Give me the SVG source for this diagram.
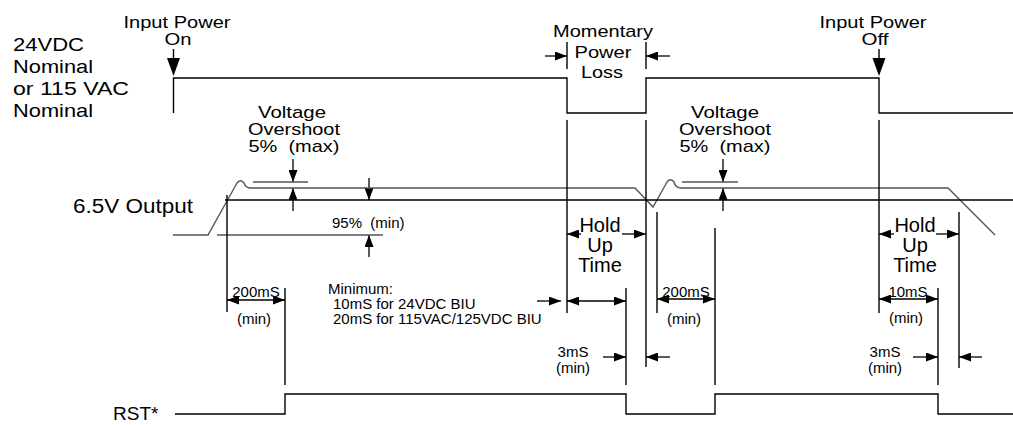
<svg xmlns="http://www.w3.org/2000/svg" width="1013" height="425" viewBox="0 0 1013 425">
<style>
.t{font-family:"Liberation Sans",Arial,Helvetica,sans-serif;fill:#000}
.f22{font-size:22px}
.f20{font-size:20px}
.f19{font-size:19px}
.f17{font-size:17px}
.f15{font-size:15px}
.m{text-anchor:middle}
.k{stroke:#000;stroke-width:1.4;fill:none}
.g{stroke:#555;stroke-width:1.4;fill:none}
.a{stroke:#000;stroke-width:1.3;fill:none;marker-end:url(#ah)}
.d{stroke:#000;stroke-width:1.3;fill:none;marker-start:url(#ah);marker-end:url(#ah)}
</style>
<defs>
<marker id="ah" markerUnits="userSpaceOnUse" markerWidth="12" markerHeight="9" refX="12" refY="4.5" orient="auto-start-reverse">
<path d="M0,0 L12,4.5 L0,9 z" fill="#000"/>
</marker>
</defs>
<rect width="1013" height="425" fill="#fff"/>

<g id="labels-left">
<text class="t f19" x="13" y="51" textLength="71" lengthAdjust="spacingAndGlyphs">24VDC</text>
<text class="t f19" x="13" y="73" textLength="80" lengthAdjust="spacingAndGlyphs">Nominal</text>
<text class="t f19" x="13" y="95" textLength="116" lengthAdjust="spacingAndGlyphs">or 115 VAC</text>
<text class="t f19" x="13" y="117" textLength="80" lengthAdjust="spacingAndGlyphs">Nominal</text>
<text class="t f20" x="73" y="213" textLength="120" lengthAdjust="spacingAndGlyphs">6.5V Output</text>
<text class="t f19" x="113" y="420">RST*</text>
</g>

<g id="input-power-on">
<text class="t f17 m" x="177" y="28" textLength="107" lengthAdjust="spacingAndGlyphs">Input Power</text>
<text class="t f17 m" x="178" y="45" textLength="27" lengthAdjust="spacingAndGlyphs">On</text>
<line class="k" x1="173.5" y1="49" x2="173.5" y2="60"/>
<polygon points="167,58 180,58 173.5,76" fill="#000"/>
</g>

<g id="momentary-power-loss">
<text class="t f17 m" x="603" y="37" textLength="100" lengthAdjust="spacingAndGlyphs">Momentary</text>
<text class="t f17 m" x="603" y="58" textLength="57" lengthAdjust="spacingAndGlyphs">Power</text>
<text class="t f17 m" x="602" y="78" textLength="42" lengthAdjust="spacingAndGlyphs">Loss</text>
<line class="k" x1="567" y1="42" x2="567" y2="69"/>
<line class="k" x1="646" y1="42" x2="646" y2="69"/>
<line class="a" x1="545" y1="56" x2="567" y2="56"/>
<line class="a" x1="670" y1="56" x2="646" y2="56"/>
</g>

<g id="input-power-off">
<text class="t f17 m" x="873" y="28" textLength="107" lengthAdjust="spacingAndGlyphs">Input Power</text>
<text class="t f17 m" x="875" y="45" textLength="27" lengthAdjust="spacingAndGlyphs">Off</text>
<line class="k" x1="879" y1="49" x2="879" y2="60"/>
<polygon points="872.5,58 885.5,58 879,76" fill="#000"/>
</g>

<g id="overshoot-1">
<text class="t f17 m" x="292" y="118" textLength="68" lengthAdjust="spacingAndGlyphs">Voltage</text>
<text class="t f17 m" x="294" y="135" textLength="92" lengthAdjust="spacingAndGlyphs">Overshoot</text>
<text class="t f17 m" x="294" y="152" textLength="91" lengthAdjust="spacingAndGlyphs" xml:space="preserve">5%  (max)</text>
<line class="a" x1="293" y1="159" x2="293" y2="182"/>
<line class="a" x1="293" y1="211" x2="293" y2="188"/>
</g>

<g id="overshoot-2">
<text class="t f17 m" x="725" y="118" textLength="68" lengthAdjust="spacingAndGlyphs">Voltage</text>
<text class="t f17 m" x="725" y="135" textLength="92" lengthAdjust="spacingAndGlyphs">Overshoot</text>
<text class="t f17 m" x="725" y="152" textLength="91" lengthAdjust="spacingAndGlyphs" xml:space="preserve">5%  (max)</text>
<line class="a" x1="723" y1="159" x2="723" y2="182"/>
<line class="a" x1="723" y1="211" x2="723" y2="188"/>
</g>

<g id="min-95">
<text class="t f15" x="332" y="228" xml:space="preserve">95%  (min)</text>
<line class="a" x1="369" y1="178" x2="369" y2="200"/>
<line class="a" x1="369" y1="257" x2="369" y2="235"/>
</g>

<g id="holdup-1">
<text class="t f20 m" x="600" y="232">Hold</text>
<text class="t f20 m" x="600" y="252">Up</text>
<text class="t f20 m" x="600" y="272">Time</text>
<line class="a" x1="581" y1="234" x2="567" y2="234"/>
<line class="a" x1="622" y1="234" x2="646" y2="234"/>
</g>

<g id="holdup-2">
<text class="t f20 m" x="915" y="232">Hold</text>
<text class="t f20 m" x="915" y="252">Up</text>
<text class="t f20 m" x="915" y="272">Time</text>
<line class="a" x1="894" y1="234" x2="879" y2="234"/>
<line class="a" x1="936" y1="234" x2="959" y2="234"/>
</g>

<g id="dim-200ms-1">
<text class="t f15 m" x="256" y="297">200mS</text>
<text class="t f15 m" x="254" y="324">(min)</text>
<line class="d" x1="227" y1="300" x2="285" y2="300"/>
</g>

<g id="minimum-note">
<text class="t f15" x="328" y="294">Minimum:</text>
<text class="t f15" x="333" y="309">10mS for 24VDC BIU</text>
<text class="t f15" x="333" y="324">20mS for 115VAC/125VDC BIU</text>
<line class="a" x1="537" y1="301" x2="561" y2="301"/>
<line class="d" x1="567" y1="301" x2="626" y2="301"/>
</g>

<g id="dim-3ms-1">
<text class="t f15 m" x="573" y="357">3mS</text>
<text class="t f15 m" x="573" y="373">(min)</text>
<line class="a" x1="603" y1="357" x2="626" y2="357"/>
<line class="a" x1="670" y1="357" x2="646" y2="357"/>
</g>

<g id="dim-200ms-2">
<text class="t f15 m" x="686" y="297">200mS</text>
<text class="t f15 m" x="684" y="324">(min)</text>
<line class="d" x1="657" y1="299" x2="715" y2="299"/>
</g>

<g id="dim-10ms">
<text class="t f15 m" x="908" y="297">10mS</text>
<text class="t f15 m" x="906" y="323">(min)</text>
<line class="d" x1="879" y1="299" x2="938" y2="299"/>
</g>

<g id="dim-3ms-2">
<text class="t f15 m" x="885" y="357">3mS</text>
<text class="t f15 m" x="885" y="373">(min)</text>
<line class="a" x1="913" y1="357" x2="938" y2="357"/>
<line class="a" x1="982" y1="357" x2="959" y2="357"/>
</g>

<g id="connectors">
<path id="input-power" class="k" d="M173.5,113 V78 H567 V113 H646 V78 H879 V113 H1013"/>
<path id="output" class="g" d="M173,235 H208 L237,183 C239,180 242,180 244,183 C245,186 247,188 251,188 H635 L653,207 L667,182 C669,179 672,179 674,182 C675,186 677,188 681,188 H948 L995,235"/>
<line class="k" x1="225" y1="200" x2="1013" y2="200"/>
<line class="g" x1="253" y1="182" x2="308" y2="182"/>
<line class="g" x1="682" y1="182" x2="738" y2="182"/>
<line class="g" x1="217" y1="235" x2="383" y2="235"/>
<path id="rst" class="k" d="M175,414 H285 V394 H626 V414 H715 V394 H938 V414 H1013"/>
<g class="k">
<line x1="227" y1="195" x2="227" y2="312"/>
<line x1="285" y1="288" x2="285" y2="385"/>
<line x1="567" y1="120" x2="567" y2="313"/>
<line x1="626" y1="288" x2="626" y2="385"/>
<line x1="646" y1="120" x2="646" y2="367"/>
<line x1="657" y1="212" x2="657" y2="313"/>
<line x1="715" y1="228" x2="715" y2="385"/>
<line x1="879" y1="120" x2="879" y2="313"/>
<line x1="938" y1="288" x2="938" y2="385"/>
<line x1="959" y1="212" x2="959" y2="368"/>
</g>
</g>
</svg>
